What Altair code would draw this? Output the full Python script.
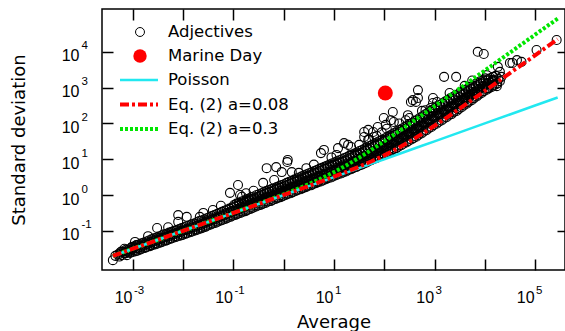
import altair as alt
import pandas as pd

# ---- data: (log10 average, log10 standard deviation) ----
band_low = [
    (-3.35,-1.70),(-3.30,-1.66),(-3.27,-1.72),(-3.25,-1.60),
    (-3.22,-1.68),(-3.19,-1.58),(-3.16,-1.62),(-3.14,-1.53),
    (-3.12,-1.68),(-3.10,-1.60),(-3.08,-1.52),(-3.05,-1.56),(-3.03,-1.47),
    (-3.02,-1.60),(-3.00,-1.50),(-2.98,-1.44),(-2.96,-1.55),(-2.94,-1.41),
    (-2.92,-1.56),(-2.90,-1.47),(-2.88,-1.38),(-2.86,-1.51),(-2.84,-1.42),
    (-2.82,-1.50),(-2.80,-1.41),(-2.78,-1.33),(-2.76,-1.46),(-2.74,-1.37),
    (-2.72,-1.45),(-2.70,-1.36),(-2.68,-1.27),(-2.66,-1.40),(-2.64,-1.31),
    (-2.62,-1.40),(-2.60,-1.30),(-2.58,-1.21),(-2.56,-1.35),(-2.54,-1.25),
    (-2.52,-1.36),(-2.50,-1.26),(-2.48,-1.16),(-2.46,-1.30),(-2.44,-1.20),
    (-2.42,-1.31),(-2.40,-1.20),(-2.38,-1.10),(-2.36,-1.25),(-2.34,-1.15),
    (-2.32,-1.26),(-2.30,-1.16),(-2.28,-1.05),(-2.26,-1.20),(-2.24,-1.10),
    (-2.22,-1.21),(-2.20,-1.10),(-2.18,-1.00),(-2.16,-1.15),(-2.14,-1.05),
    (-2.12,-1.16),(-2.10,-1.05),(-2.08,-0.95),(-2.06,-1.10),(-2.04,-1.00),
    (-2.02,-1.12),(-2.00,-1.00),(-1.98,-0.90),(-1.96,-1.06),(-1.94,-0.95),
    (-1.92,-1.07),(-1.90,-0.96),(-1.88,-0.85),(-1.86,-1.01),(-1.84,-0.90),
    (-1.82,-1.02),(-1.80,-0.90),(-1.78,-0.80),(-1.76,-0.96),(-1.74,-0.85),
    (-1.72,-0.97),(-1.70,-0.85),(-1.68,-0.73),(-1.66,-0.91),(-1.64,-0.79),
    (-1.62,-0.92),(-1.60,-0.80),(-1.58,-0.68),(-1.56,-0.86),(-1.54,-0.74),
    (-1.52,-0.86),(-1.50,-0.74),(-1.48,-0.62),(-1.46,-0.80),(-1.44,-0.68),
    (-1.42,-0.80),(-1.40,-0.68),(-1.38,-0.56),(-1.36,-0.74),(-1.34,-0.62),
    (-1.32,-0.75),(-1.30,-0.63),(-1.28,-0.50),(-1.26,-0.69),(-1.24,-0.57),
    (-1.22,-0.70),(-1.20,-0.57),(-1.18,-0.44),(-1.16,-0.63),(-1.14,-0.50),
    (-1.12,-0.64),(-1.10,-0.51),(-1.08,-0.38),(-1.06,-0.57),(-1.04,-0.45),
    (-1.02,-0.58),(-1.00,-0.45),(-0.98,-0.32),(-0.96,-0.52),(-0.94,-0.39),(-0.99,-0.28),
]
band_mid = [
    (-0.92,-0.53),(-0.90,-0.40),(-0.88,-0.27),(-0.86,-0.46),(-0.84,-0.33),(-0.89,-0.22),
    (-0.82,-0.47),(-0.80,-0.34),(-0.78,-0.21),(-0.76,-0.41),(-0.74,-0.27),(-0.79,-0.16),
    (-0.72,-0.42),(-0.70,-0.28),(-0.68,-0.15),(-0.66,-0.35),(-0.64,-0.21),(-0.69,-0.10),
    (-0.62,-0.36),(-0.60,-0.22),(-0.58,-0.09),(-0.56,-0.29),(-0.54,-0.15),(-0.59,-0.04),
    (-0.52,-0.30),(-0.50,-0.17),(-0.48,-0.03),(-0.46,-0.24),(-0.44,-0.10),(-0.49,0.02),
    (-0.42,-0.25),(-0.40,-0.11),(-0.38,0.03),(-0.36,-0.18),(-0.34,-0.04),(-0.39,0.08),
    (-0.32,-0.19),(-0.30,-0.05),(-0.28,0.09),(-0.26,-0.12),(-0.24,0.02),(-0.29,0.14),
    (-0.22,-0.14),(-0.20,0.00),(-0.18,0.14),(-0.16,-0.07),(-0.14,0.07),(-0.19,0.19),
    (-0.12,-0.08),(-0.10,0.06),(-0.08,0.20),(-0.06,-0.01),(-0.04,0.13),(-0.09,0.25),
    (-0.02,-0.03),(0.00,0.11),(0.02,0.25),(0.04,0.04),(0.06,0.18),(0.01,0.30),
    (0.08,0.03),(0.10,0.17),(0.12,0.31),(0.14,0.10),(0.16,0.24),(0.11,0.37),
    (0.18,0.08),(0.20,0.23),(0.22,0.37),(0.24,0.15),(0.26,0.30),(0.21,0.43),
    (0.28,0.14),(0.30,0.28),(0.32,0.43),(0.34,0.21),(0.36,0.36),(0.31,0.49),
    (0.38,0.19),(0.40,0.34),(0.42,0.49),(0.44,0.26),(0.46,0.41),(0.41,0.55),
    (0.48,0.25),(0.50,0.40),(0.52,0.55),(0.54,0.32),(0.56,0.47),(0.51,0.61),
    (0.58,0.30),(0.60,0.46),(0.62,0.61),(0.64,0.38),(0.66,0.53),(0.61,0.67),
    (0.68,0.36),(0.70,0.52),(0.72,0.67),(0.74,0.44),(0.76,0.59),(0.71,0.73),
    (0.78,0.41),(0.80,0.57),(0.82,0.73),(0.84,0.49),(0.86,0.65),(0.81,0.79),
    (0.88,0.47),(0.90,0.63),(0.92,0.79),(0.94,0.55),(0.96,0.71),(0.91,0.85),
    (0.98,0.52),(1.00,0.69),(1.02,0.85),(1.04,0.61),(1.06,0.77),(1.01,0.91),
]
band_high = [
    (1.08,0.58),(1.10,0.74),(1.12,0.90),(1.14,0.66),(1.16,0.83),(1.11,0.97),(1.13,0.78),
    (1.18,0.63),(1.20,0.80),(1.22,0.96),(1.24,0.71),(1.26,0.88),(1.21,1.03),(1.19,0.75),
    (1.28,0.69),(1.30,0.86),(1.32,1.03),(1.34,0.77),(1.36,0.94),(1.31,1.10),(1.29,0.81),
    (1.38,0.75),(1.40,0.93),(1.42,1.10),(1.44,0.84),(1.46,1.01),(1.41,1.16),(1.39,0.88),
    (1.48,0.81),(1.50,0.99),(1.52,1.17),(1.54,0.90),(1.56,1.08),(1.51,1.23),(1.49,0.94),
    (1.58,0.87),(1.60,1.06),(1.62,1.24),(1.64,0.96),(1.66,1.15),(1.61,1.30),(1.59,1.01),
    (1.68,0.94),(1.70,1.13),(1.72,1.31),(1.74,1.03),(1.76,1.22),(1.71,1.37),(1.69,1.08),
    (1.78,1.00),(1.80,1.20),(1.82,1.38),(1.84,1.10),(1.86,1.29),(1.81,1.44),(1.79,1.15),
    (1.88,1.07),(1.90,1.27),(1.92,1.45),(1.94,1.17),(1.96,1.36),(1.91,1.51),(1.89,1.22),
    (1.98,1.14),(2.00,1.34),(2.02,1.52),(2.04,1.24),(2.06,1.43),(2.01,1.58),(1.99,1.29),
    (2.08,1.21),(2.10,1.41),(2.12,1.60),(2.14,1.31),(2.16,1.51),(2.11,1.66),(2.09,1.36),
    (2.18,1.28),(2.20,1.49),(2.22,1.68),(2.24,1.38),(2.26,1.59),(2.21,1.74),(2.19,1.43),
    (2.28,1.35),(2.30,1.56),(2.32,1.76),(2.34,1.46),(2.36,1.67),(2.31,1.82),(2.29,1.51),
    (2.38,1.43),(2.40,1.64),(2.42,1.84),(2.44,1.54),(2.46,1.75),(2.41,1.90),(2.39,1.59),
    (2.48,1.51),(2.50,1.72),(2.52,1.92),(2.54,1.62),(2.56,1.83),(2.51,1.98),(2.49,1.67),
    (2.58,1.59),(2.60,1.81),(2.62,2.01),(2.64,1.70),(2.66,1.92),(2.61,2.07),(2.59,1.75),
    (2.68,1.68),(2.70,1.90),(2.72,2.10),(2.74,1.79),(2.76,2.01),(2.71,2.16),(2.69,1.84),
    (2.78,1.77),(2.80,1.99),(2.82,2.19),(2.84,1.88),(2.86,2.10),(2.81,2.25),(2.79,1.93),
    (2.88,1.86),(2.90,2.08),(2.92,2.28),(2.94,1.97),(2.96,2.19),(2.91,2.34),(2.89,2.02),
    (2.98,1.95),(3.00,2.17),(3.02,2.37),(3.04,2.06),(3.06,2.28),(3.01,2.43),(2.99,2.11),
]
band_top = [
    (3.08,2.04),(3.10,2.26),(3.12,2.46),(3.14,2.15),(3.16,2.37),(3.11,2.52),(3.09,2.20),
    (3.18,2.13),(3.20,2.35),(3.22,2.55),(3.24,2.24),(3.26,2.46),(3.21,2.61),(3.19,2.29),
    (3.28,2.22),(3.30,2.44),(3.32,2.64),(3.34,2.33),(3.36,2.55),(3.31,2.70),(3.29,2.38),
    (3.38,2.31),(3.40,2.53),(3.42,2.72),(3.44,2.42),(3.46,2.63),(3.41,2.78),(3.39,2.47),
    (3.48,2.40),(3.50,2.61),(3.52,2.80),(3.54,2.51),(3.56,2.71),(3.51,2.86),(3.49,2.56),
    (3.58,2.50),(3.60,2.70),(3.62,2.88),(3.64,2.60),(3.66,2.79),(3.61,2.94),(3.59,2.65),
    (3.68,2.60),(3.70,2.79),(3.72,2.96),(3.74,2.70),(3.76,2.88),(3.71,3.02),(3.69,2.74),
    (3.78,2.70),(3.80,2.88),(3.82,3.04),(3.84,2.80),(3.86,2.96),(3.81,3.10),(3.79,2.83),
    (3.88,2.80),(3.90,2.97),(3.92,3.12),(3.94,2.89),(3.96,3.04),(3.91,3.18),
    (3.98,2.90),(4.00,3.06),(4.02,3.20),(4.04,2.98),(4.06,3.13),(4.01,3.26),
    (4.08,2.98),(4.10,3.14),(4.12,3.27),(4.14,3.06),(4.16,3.20),
    (4.18,3.06),(4.20,3.20),(4.22,3.33),(4.25,3.12),
    (4.30,3.18),(4.33,3.30),
]
band_fill = [
    (-3.25,-1.64),(-3.23,-1.58),(-3.15,-1.63),(-3.13,-1.57),(-3.17,-1.50),
    (-3.06,-1.62),(-3.04,-1.53),(-3.02,-1.45),(-2.96,-1.58),(-2.95,-1.49),(-2.93,-1.40),
    (-2.86,-1.53),(-2.85,-1.45),(-2.83,-1.35),(-2.76,-1.48),(-2.75,-1.39),(-2.73,-1.30),
    (-2.66,-1.43),(-2.65,-1.33),(-2.63,-1.24),(-2.56,-1.38),(-2.55,-1.28),(-2.53,-1.19),
    (-2.46,-1.33),(-2.45,-1.23),(-2.43,-1.13),(-2.36,-1.28),(-2.35,-1.18),(-2.33,-1.08),
    (-2.26,-1.23),(-2.25,-1.13),(-2.23,-1.03),(-2.16,-1.18),(-2.15,-1.08),(-2.13,-0.98),
    (-2.06,-1.14),(-2.05,-1.03),(-2.03,-0.92),(-1.96,-1.09),(-1.95,-0.98),(-1.93,-0.87),
    (-1.86,-1.04),(-1.85,-0.93),(-1.83,-0.82),(-1.76,-0.99),(-1.75,-0.88),(-1.73,-0.76),
    (-1.66,-0.94),(-1.65,-0.83),(-1.63,-0.71),(-1.56,-0.89),(-1.55,-0.77),(-1.53,-0.65),
    (-1.46,-0.83),(-1.45,-0.71),(-1.43,-0.59),(-1.36,-0.78),(-1.35,-0.66),(-1.33,-0.53),
    (-1.26,-0.72),(-1.25,-0.60),(-1.23,-0.47),(-1.16,-0.67),(-1.15,-0.54),(-1.13,-0.41),
    (-1.06,-0.61),(-1.05,-0.48),(-1.03,-0.35),
    (-0.96,-0.56),(-0.95,-0.43),(-0.93,-0.30),(-0.94,-0.24),
    (-0.86,-0.50),(-0.85,-0.37),(-0.83,-0.24),(-0.84,-0.18),
    (-0.76,-0.45),(-0.75,-0.31),(-0.73,-0.18),(-0.74,-0.12),
    (-0.66,-0.39),(-0.65,-0.25),(-0.63,-0.12),(-0.64,-0.06),
    (-0.56,-0.33),(-0.55,-0.19),(-0.53,-0.06),(-0.54,0.00),
    (-0.46,-0.28),(-0.45,-0.14),(-0.43,0.00),(-0.44,0.05),
    (-0.36,-0.22),(-0.35,-0.08),(-0.33,0.06),(-0.34,0.11),
    (-0.26,-0.17),(-0.25,-0.03),(-0.23,0.11),(-0.24,0.17),
    (-0.16,-0.11),(-0.15,0.03),(-0.13,0.17),(-0.14,0.22),
    (-0.06,-0.06),(-0.05,0.08),(-0.03,0.22),(-0.04,0.28),
    (0.04,0.00),(0.05,0.14),(0.07,0.28),(0.06,0.34),
    (0.14,0.05),(0.15,0.20),(0.17,0.34),(0.16,0.40),
    (0.24,0.11),(0.25,0.26),(0.27,0.40),(0.26,0.46),
    (0.34,0.16),(0.35,0.31),(0.37,0.46),(0.36,0.52),
    (0.44,0.22),(0.45,0.37),(0.47,0.52),(0.46,0.58),
    (0.54,0.27),(0.55,0.43),(0.57,0.58),(0.56,0.64),
    (0.64,0.33),(0.65,0.49),(0.67,0.64),(0.66,0.70),
    (0.74,0.38),(0.75,0.54),(0.77,0.70),(0.76,0.76),
    (0.84,0.44),(0.85,0.60),(0.87,0.76),(0.86,0.82),
    (0.94,0.49),(0.95,0.66),(0.97,0.82),(0.96,0.88),
    (1.04,0.55),(1.05,0.72),(1.07,0.88),(1.06,0.94),
    (1.14,0.60),(1.15,0.77),(1.17,0.93),(1.16,1.00),
    (1.24,0.66),(1.25,0.83),(1.27,1.00),(1.26,1.06),
    (1.34,0.72),(1.35,0.90),(1.37,1.06),(1.36,1.13),
    (1.44,0.78),(1.45,0.96),(1.47,1.13),(1.46,1.19),
    (1.54,0.84),(1.55,1.03),(1.57,1.20),(1.56,1.26),
    (1.64,0.90),(1.65,1.09),(1.67,1.27),(1.66,1.33),
    (1.74,0.97),(1.75,1.16),(1.77,1.34),(1.76,1.40),
    (1.84,1.03),(1.85,1.23),(1.87,1.41),(1.86,1.47),
    (1.94,1.10),(1.95,1.30),(1.97,1.48),(1.96,1.54),
    (2.04,1.17),(2.05,1.37),(2.07,1.56),(2.06,1.62),
    (2.14,1.24),(2.15,1.45),(2.17,1.64),(2.16,1.70),
    (2.24,1.31),(2.25,1.52),(2.27,1.72),(2.26,1.78),
    (2.34,1.39),(2.35,1.60),(2.37,1.80),(2.36,1.86),
    (2.44,1.47),(2.45,1.68),(2.47,1.88),(2.46,1.94),
    (2.54,1.55),(2.55,1.76),(2.57,1.96),(2.56,2.02),
    (2.64,1.63),(2.65,1.85),(2.67,2.05),(2.66,2.11),
    (2.74,1.72),(2.75,1.94),(2.77,2.14),(2.76,2.20),
    (2.84,1.81),(2.85,2.03),(2.87,2.23),(2.86,2.29),
    (2.94,1.90),(2.95,2.12),(2.97,2.32),(2.96,2.38),
    (3.04,1.99),(3.05,2.21),(3.07,2.41),(3.06,2.47),
    (3.14,2.08),(3.15,2.30),(3.17,2.50),(3.16,2.56),
    (3.24,2.17),(3.25,2.39),(3.27,2.59),(3.26,2.65),
    (3.34,2.26),(3.35,2.48),(3.37,2.67),(3.36,2.73),
    (3.44,2.35),(3.45,2.57),(3.47,2.75),(3.46,2.81),
    (3.54,2.45),(3.55,2.65),(3.57,2.83),(3.56,2.89),
    (3.64,2.55),(3.65,2.74),(3.67,2.91),(3.66,2.97),
    (3.74,2.65),(3.75,2.83),(3.77,2.99),(3.76,3.05),
    (3.84,2.75),(3.85,2.92),(3.87,3.07),(3.86,3.13),
    (3.94,2.85),(3.95,3.01),(3.97,3.15),(3.96,3.21),
    (4.04,2.94),(4.05,3.10),(4.07,3.23),
    (4.14,3.02),(4.15,3.17),(4.17,3.30),
    (4.24,3.10),(4.27,3.24),
]
outliers = [
    (-3.40,-1.82),(-2.96,-1.31),(-2.52,-0.92),(-2.70,-1.15),(-2.30,-0.90),
    (-2.10,-0.56),(-1.93,-0.61),(-2.10,-0.75),(-1.67,-0.61),(-1.60,-0.50),
    (-1.41,-0.42),(-1.25,-0.30),(-1.07,0.06),(-0.91,0.28),(-0.87,0.00),(-0.83,-0.05),
    (-0.75,0.05),(-0.60,0.12),(-0.41,0.34),(-0.19,0.42),(-0.34,0.75),(-0.15,0.78),
    (0.07,0.92),(0.08,0.98),(-0.04,0.64),(0.16,0.64),(0.30,0.62),(0.45,0.75),
    (0.60,0.85),(0.74,1.17),(0.80,1.26),(0.95,1.05),(1.05,1.12),(1.08,1.31),
    (1.20,1.45),(1.28,1.40),(1.34,1.34),(1.50,1.40),(1.60,1.62),(1.60,1.76),
    (1.68,1.54),(1.68,1.82),(1.70,1.55),(1.78,1.76),(1.80,1.62),(1.85,1.65),
    (1.87,1.90),(1.95,1.75),(1.99,2.15),(2.03,1.96),(2.05,1.85),(2.13,2.09),
    (2.17,2.32),(2.19,2.04),(2.30,2.00),(2.43,2.09),(2.47,2.23),(2.50,2.15),
    (2.53,2.60),(2.57,2.65),(2.63,2.60),(2.67,2.71),(2.67,2.93),(2.75,2.35),
    (2.82,2.37),(2.92,2.43),(2.97,2.57),(2.97,2.71),(3.05,2.60),(3.19,3.30),
    (3.30,2.85),(3.43,3.30),(3.60,3.05),(3.75,3.20),(3.86,4.00),(3.98,3.94),
    (4.04,3.35),(4.06,2.99),(4.16,3.21),(4.24,3.04),(4.26,3.58),(4.30,3.44),
    (4.50,3.69),(4.55,3.69),(4.64,3.77),(4.73,3.72),(5.03,4.05),(5.43,4.33),
]

marine_avg = [105.0]
marine_sd = [710.0]

curve_avg_exp = [-3.4, -3.0, -2.5, -2.0, -1.5, -1.0, -0.5, 0.0, 0.25, 0.5, 0.75, 1.0, 1.25,
                 1.5, 1.75, 2.0, 2.25, 2.5, 2.75, 3.0, 3.25, 3.5, 4.0, 4.5, 5.0, 5.45]
poisson_sd_exp = [-1.7, -1.5, -1.25, -1.0, -0.75, -0.5, -0.25, 0.0, 0.125, 0.25, 0.375, 0.5, 0.625,
                  0.75, 0.875, 1.0, 1.125, 1.25, 1.375, 1.5, 1.625, 1.75, 2.0, 2.25, 2.5, 2.725]
eq008_sd_exp = [-1.7, -1.5, -1.25, -1.0, -0.75, -0.5, -0.25, 0.001, 0.127, 0.254, 0.383, 0.513, 0.648,
                0.79, 0.942, 1.107, 1.29, 1.49, 1.706, 1.935, 2.171, 2.414, 2.906, 3.404, 3.903, 4.353]
eq03_sd_exp = [-1.7, -1.5, -1.25, -1.0, -0.749, -0.498, -0.244, 0.019, 0.157, 0.304, 0.464, 0.639, 0.832,
               1.042, 1.266, 1.5, 1.74, 1.985, 2.231, 2.48, 2.728, 2.978, 3.477, 3.977, 4.477, 4.927]

x_tick_exp = [-3, -2, -1, 0, 1, 2, 3, 4, 5]
x_label_exp = [-3, -1, 1, 3, 5]
y_tick_exp = [-1, 0, 1, 2, 3, 4]
legend_labels = ["Adjectives", "Marine Day", "Poisson", "Eq. (2) a=0.08", "Eq. (2) a=0.3"]

# ---- build tables ----
pts = band_low + band_mid + band_high + band_top + band_fill + outliers
adj_df = pd.DataFrame({"avg": [10 ** a for a, b in pts], "sd": [10 ** b for a, b in pts]})
marine_df = pd.DataFrame({"avg": marine_avg, "sd": marine_sd})
def curve(sd_exp):
    return pd.DataFrame({"avg": [10 ** e for e in curve_avg_exp], "sd": [10 ** e for e in sd_exp]})
poisson_df = curve(poisson_sd_exp)
eq008_df = curve(eq008_sd_exp)
eq03_df = curve(eq03_sd_exp)

def label_expr(exps, labelled, kind):
    expr = "''"
    for e in reversed(exps):
        if e in labelled:
            txt = "10" if kind == "base" else str(e)
        else:
            txt = ""
        expr = f"datum.value < {10 ** (e + 0.5)} ? '{txt}' : " + expr
    return expr

W, H = 463, 261
FONT = "DejaVu Sans"
TFONT = "Liberation Sans"
xdom = [10 ** -3.616, 10 ** 5.596]
ydom = [10 ** -2.095, 10 ** 5.196]
xs = alt.Scale(type="log", domain=xdom, nice=False)
ys = alt.Scale(type="log", domain=ydom, nice=False)
x_vals = [10 ** e for e in x_tick_exp]
y_vals = [10 ** e for e in y_tick_exp]

common = dict(grid=False, domain=False, labelFlush=False, labelOverlap=False, labelColor="black",
              labelFont=TFONT)

x_bottom = alt.Axis(orient="bottom", values=x_vals, offset=-11, tickSize=11, tickColor="black",
                    tickWidth=1.5, labelExpr=label_expr(x_tick_exp, x_label_exp, "base"),
                    labelPadding=19, labelFontSize=16, labelBaseline="top", labelAlign="right",
                    labelOffset=-1, title="Average", titleFont=FONT, titleFontSize=18,
                    titleFontWeight="normal", titleColor="black", titleBaseline="alphabetic",
                    titleY=68, **common)
x_bottom_exp = alt.Axis(orient="bottom", values=x_vals, offset=0, tickSize=0, tickOpacity=0,
                        labelExpr=label_expr(x_tick_exp, x_label_exp, "exp"), labelPadding=14,
                        labelFontSize=11.5, labelBaseline="top", labelAlign="left", labelOffset=0.5,
                        title=None, **common)
y_left = alt.Axis(orient="left", values=y_vals, offset=-11, tickSize=11, tickColor="black",
                  tickWidth=1.5, labelExpr=label_expr(y_tick_exp, y_tick_exp, "base"),
                  labelPadding=23, labelFontSize=16, labelBaseline="middle", labelAlign="right",
                  labelOffset=4, title="Standard deviation", titleFont=FONT, titleFontSize=18,
                  titleFontWeight="normal", titleColor="black", titleBaseline="alphabetic",
                  titleX=-89, titleAngle=270, **common)
y_left_exp = alt.Axis(orient="left", values=y_vals, offset=0, tickSize=0, tickOpacity=0,
                      labelExpr=label_expr(y_tick_exp, y_tick_exp, "exp"), labelPadding=21,
                      labelFontSize=11.5, labelBaseline="middle", labelAlign="left", labelOffset=-6,
                      title=None, **common)
x_top = alt.Axis(orient="top", values=x_vals, offset=-11, tickSize=11, domain=False, grid=False,
                 labels=False, title=None, tickColor="black", tickWidth=1.5)
y_right = alt.Axis(orient="right", values=y_vals, offset=-8, tickSize=8, domain=False, grid=False,
                   labels=False, title=None, tickColor="black", tickWidth=1.5)

adj_layer = alt.Chart(adj_df).mark_point(shape="circle", filled=False, color="black", size=80,
                                         strokeWidth=1.1, opacity=1).encode(
    x=alt.X("avg:Q", scale=xs, axis=x_bottom),
    y=alt.Y("sd:Q", scale=ys, axis=y_left),
)

def line_layer(df, color, width, dash=None, xaxis=None, yaxis=None):
    kw = dict(color=color, strokeWidth=width, clip=True)
    if dash:
        kw["strokeDash"] = dash
    return alt.Chart(df).mark_line(**kw).encode(
        x=alt.X("avg:Q", scale=xs, axis=xaxis),
        y=alt.Y("sd:Q", scale=ys, axis=yaxis),
    )

green_layer = line_layer(eq03_df, "#00e600", 4, [3, 2])
cyan_layer = line_layer(poisson_df, "#22e8f0", 2.5, xaxis=x_bottom_exp, yaxis=y_left_exp)
red_layer = line_layer(eq008_df, "#ff0000", 4, [9, 3, 3, 3])

marine_layer = alt.Chart(marine_df).mark_point(shape="circle", filled=True, color="#ff0000",
                                               size=225, opacity=1).encode(
    x=alt.X("avg:Q", scale=xs, axis=x_top),
    y=alt.Y("sd:Q", scale=ys, axis=y_right),
)

# ---- legend (drawn inside the plot, top left) ----
rows = [23, 47, 71, 95.5, 120]
leg_df = pd.DataFrame({"label": legend_labels})
legend_layers = []
for lab, ry in zip(legend_labels, rows):
    legend_layers.append(
        alt.Chart(leg_df[leg_df.label == lab]).mark_text(
            align="left", baseline="middle", font=FONT, fontSize=16.5, color="black").encode(
            text="label:N", x=alt.value(66), y=alt.value(ry)))
legend_layers.append(alt.Chart(leg_df.head(1)).mark_point(
    shape="circle", filled=False, color="black", size=80, strokeWidth=1, opacity=1).encode(
    x=alt.value(38), y=alt.value(rows[0])))
legend_layers.append(alt.Chart(leg_df.head(1)).mark_point(
    shape="circle", filled=True, color="#ff0000", size=180, opacity=1).encode(
    x=alt.value(38), y=alt.value(rows[1])))
for (color, width, dash), ry in zip([("#22e8f0", 2.5, None), ("#ff0000", 4, [9, 3, 3, 3]),
                                     ("#00e600", 4, [3, 2])], rows[2:]):
    kw = dict(color=color, strokeWidth=width)
    if dash:
        kw["strokeDash"] = dash
    legend_layers.append(alt.Chart(leg_df.head(1)).mark_rule(**kw).encode(
        x=alt.value(18), x2=alt.value(56), y=alt.value(ry)))

chart = alt.layer(adj_layer, green_layer, cyan_layer, red_layer, marine_layer, *legend_layers).resolve_axis(
    x="independent", y="independent"
).properties(
    width=W, height=H,
    autosize=alt.AutoSizeParams(type="none"),
    padding={"left": 102, "top": 9, "right": 0, "bottom": 61},
    background="white",
).configure_view(stroke="black", strokeWidth=1.5)

chart.save("out.html", embed_options={"renderer": "svg", "actions": False})
